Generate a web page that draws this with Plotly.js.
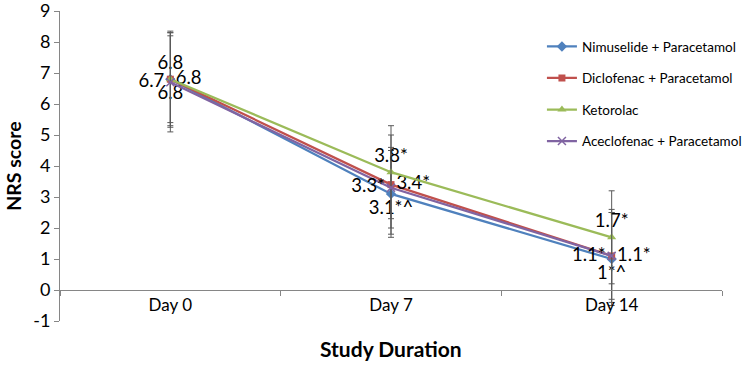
<!DOCTYPE html>
<html>
<head>
<meta charset="utf-8">
<script src="https://cdn.plot.ly/plotly-3.0.1.min.js"></script>
<style>
  html, body { margin: 0; padding: 0; background: #fff; }
  #chart { width: 750px; height: 368px; }
</style>
</head>
<body>
<div id="chart"></div>
<script>
// Study time points
const days = ["Day 0", "Day 7", "Day 14"];

// Mean NRS score per group
const nimuselide = [6.8, 3.1, 1.0];
const diclofenac = [6.8, 3.4, 1.1];
const ketorolac = [6.8, 3.8, 1.7];
const aceclofenac = [6.7, 3.3, 1.1];

// Standard deviations (error bars)
const nimuselideSD = [1.5, 1.4, 1.5];
const diclofenacSD = [1.4, 1.6, 1.5];
const ketorolacSD = [1.55, 1.5, 1.5];
const aceclofenacSD = [1.6, 1.3, 1.4];

// Point labels with significance marks
const nimuselideLbl = ["6.8", "3.1*^", "1*^"];
const diclofenacLbl = ["6.8", "3.4*", "1.1*"];
const ketorolacLbl = ["6.8", "3.8*", "1.7*"];
const aceclofenacLbl = ["6.7", "3.3*", "1.1*"];

// Y axis ticks (plain hyphen for negatives)
const yTicks = [-1, 0, 1, 2, 3, 4, 5, 6, 7, 8, 9];
const yTickText = ["-1", "0", "1", "2", "3", "4", "5", "6", "7", "8", "9"];

const FONT = "Lato, 'Open Sans', 'DejaVu Sans', sans-serif";
const errStyle = (arr) => ({ type: "data", array: arr, visible: true, color: "#595959", thickness: 1, width: 3 });

function series(name, y, sd, lbl, color, symbol, pos, group) {
  return {
    type: "scatter",
    mode: "lines+markers+text",
    name: name,
    legendgroup: group,
    x: days,
    y: y,
    text: lbl,
    textposition: pos,
    textfont: { family: FONT, size: 18.5, color: "#000" },
    error_y: errStyle(sd),
    line: { color: color, width: 2.25 },
    marker: symbol === "x-thin"
      ? { symbol: symbol, size: 8, color: color, line: { color: color, width: 1.5 } }
      : { symbol: symbol, size: symbol === "square" ? 7 : 8, color: color },
    cliponaxis: false
  };
}

const data = [
  series("Nimuselide + Paracetamol", nimuselide, nimuselideSD, nimuselideLbl, "#4F81BD", "diamond", "bottom center", "g1"),
  series("Diclofenac + Paracetamol", diclofenac, diclofenacSD, diclofenacLbl, "#C0504D", "square", "middle right", "g2"),
  series("Ketorolac", ketorolac, ketorolacSD, ketorolacLbl, "#9BBB59", "triangle-up", "top center", "g3"),
  series("Aceclofenac + Paracetamol", aceclofenac, aceclofenacSD, aceclofenacLbl, "#8064A2", "x-thin", "middle left", "g4")
];

const layout = {
  width: 750,
  height: 368,
  margin: { l: 60, r: 28, t: 11, b: 47, autoexpand: false },
  paper_bgcolor: "#fff",
  plot_bgcolor: "#fff",
  font: { family: FONT, color: "#000" },
  showlegend: true,
  legend: {
    x: 0.728, y: 0.935, xanchor: "left", yanchor: "top",
    font: { family: FONT, size: 13.5, color: "#000" },
    itemwidth: 30,
    tracegroupgap: 11,
    bgcolor: "rgba(0,0,0,0)"
  },
  xaxis: {
    type: "category",
    range: [-0.5, 2.5],
    anchor: "free",
    position: 0.1,
    showline: true,
    linecolor: "#868686",
    linewidth: 1,
    ticks: "outside",
    tickson: "boundaries",
    ticklen: 5,
    tickcolor: "#868686",
    showgrid: false,
    zeroline: false,
    tickfont: { family: FONT, size: 17, color: "#000" }
  },
  yaxis: {
    range: [-1, 9],
    tickmode: "array",
    tickvals: yTicks,
    ticktext: yTickText,
    ticklabeloverflow: "allow",
    showline: true,
    linecolor: "#868686",
    linewidth: 1,
    ticks: "outside",
    ticklen: 5,
    tickcolor: "#868686",
    showgrid: false,
    zeroline: false,
    tickfont: { family: FONT, size: 18, color: "#000" },
    title: { text: "<b>NRS score</b>", font: { family: FONT, size: 19.5, color: "#000" }, standoff: 6 }
  },
  annotations: [
    {
      text: "<b>Study Duration</b>",
      xref: "paper", yref: "paper",
      x: 0.5, y: -0.09,
      xanchor: "center", yanchor: "middle",
      showarrow: false,
      font: { family: FONT, size: 21, color: "#000" }
    }
  ]
};

Plotly.newPlot("chart", data, layout, { displayModeBar: false, staticPlot: true });
</script>
</body>
</html>
